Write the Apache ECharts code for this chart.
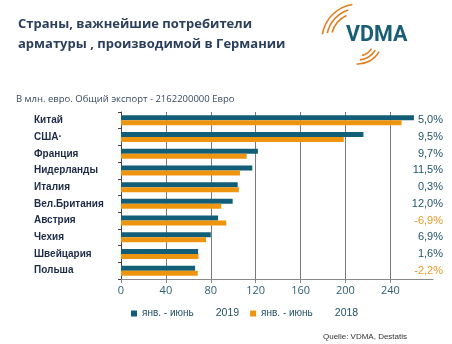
<!DOCTYPE html>
<html><head><meta charset="utf-8">
<script src="https://cdn.jsdelivr.net/npm/echarts@6/dist/echarts.min.js"></script>
<style>html,body{margin:0;padding:0;background:#fff}#c{width:452px;height:344px}</style>
</head><body><div id="c"></div>
<script>
const categories = ['Китай','США·','Франция','Нидерланды','Италия','Вел.Британия','Австрия','Чехия','Швейцария','Польша'];
const values2019 = [261, 216, 122, 117, 104, 99.5, 86.5, 80, 68.7, 66];
const values2018 = [250, 198.5, 112, 106, 105, 89.4, 93.8, 75.8, 69, 68.4];
const changes = ['5,0%','9,5%','9,7%','11,5%','0,3%','12,0%','-6,9%','6,9%','1,6%','-2,2%'];
const seriesNames = ['янв. - июнь 2019','янв. - июнь 2018'];
const xTicks = {min:0, max:278, interval:40};

const chart = echarts.init(document.getElementById('c'), null, {renderer:'canvas'});
const ORANGE = '#ee950f', TEAL = '#125d77', ARC = '#e07f22';
function arc(r, a0, a1){
  return {type:'arc', shape:{cx:358, cy:40, r:r, startAngle:a0*Math.PI, endAngle:a1*Math.PI, clockwise:true},
    style:{stroke:ARC, lineWidth:1.6, fill:null}};
}
chart.setOption({
  animation:false,
  textStyle:{fontFamily:'Open Sans'},
  title:[
    {text:'Страны, важнейшие потребители\nарматуры , производимой в Германии', left:13, top:9,
     textStyle:{fontSize:13, fontWeight:'bold', color:'#2b3f5c', lineHeight:20, fontFamily:'Open Sans'}},
    {text:'В млн. евро. Общий экспорт - 2162200000 Евро', left:11, top:89,
     textStyle:{fontSize:9.5, fontWeight:'normal', color:'#3a4a60', fontFamily:'Open Sans'}},
    {text:'Quelle: VDMA, Destatis', left:318, top:328,
     textStyle:{fontSize:8, fontWeight:'normal', color:'#333', fontFamily:'Liberation Sans'}}
  ],
  graphic:[
    {type:'text', left:346, top:25, style:{text:'VDMA', font:'bold 21.5px Roboto', fill:'#1a5e75'}},
    arc(36, 1.05, 1.45),
    arc(31.5, 1.07, 1.40),
    arc(27, 1.09, 1.36),
    arc(16, 0.18, 0.42),
    arc(20, 0.17, 0.47),
    arc(24, 0.16, 0.52)
  ],
  legend:{
    left:131, top:308, padding:0, itemWidth:6, itemHeight:6, itemGap:11, icon:'rect',
    data:seriesNames,
    formatter:function(n){ const p=n.split(' '); return '{a|'+p.slice(0,3).join(' ')+'}{b|'+p[3]+'}'; },
    textStyle:{color:'#1f4f63', rich:{
      a:{fontSize:10, color:'#1f4f63', fontFamily:'Liberation Sans', padding:[0,22,0,0]},
      b:{fontSize:10.5, color:'#1f4f63', fontFamily:'Liberation Sans'}}}
  },
  grid:{left:121, right:19, top:112, bottom:65},
  xAxis:{type:'value', min:xTicks.min, max:xTicks.max, interval:xTicks.interval,
    axisLine:{show:true, lineStyle:{color:'#888', width:1}},
    axisTick:{show:true, length:4, lineStyle:{color:'#888'}},
    axisLabel:{showMaxLabel:false, color:'#2d5f70', fontSize:11, margin:6},
    splitLine:{show:true, showMinLine:false, showMaxLine:false, lineStyle:{color:'#7a7a7a', width:1}}
  },
  yAxis:[
    {type:'category', data:categories, inverse:true,
     axisLine:{show:true, lineStyle:{color:'#444', width:1}},
     axisTick:{show:true, length:3, lineStyle:{color:'#444'}},
     axisLabel:{align:'left', margin:87, fontWeight:'bold', fontSize:10, color:'#1d2b48', fontFamily:'Liberation Sans'}},
    {type:'category', data:changes, inverse:true, position:'right',
     axisLine:{show:false}, axisTick:{show:false},
     axisLabel:{align:'right', margin:10,
       formatter:function(v){ return v.charAt(0)==='-' ? '{n|'+v+'}' : '{p|'+v+'}'; },
       rich:{p:{color:'#245569', fontSize:11, fontFamily:'Liberation Sans'}, n:{color:'#e59a2a', fontSize:11, fontFamily:'Liberation Sans'}}}}
  ],
  series:[
    {name:seriesNames[0], type:'bar', data:values2019, barWidth:5, barGap:'0%', itemStyle:{color:TEAL}},
    {name:seriesNames[1], type:'bar', data:values2018, barWidth:5, barGap:'0%', itemStyle:{color:ORANGE}}
  ]
});
</script></body></html>
